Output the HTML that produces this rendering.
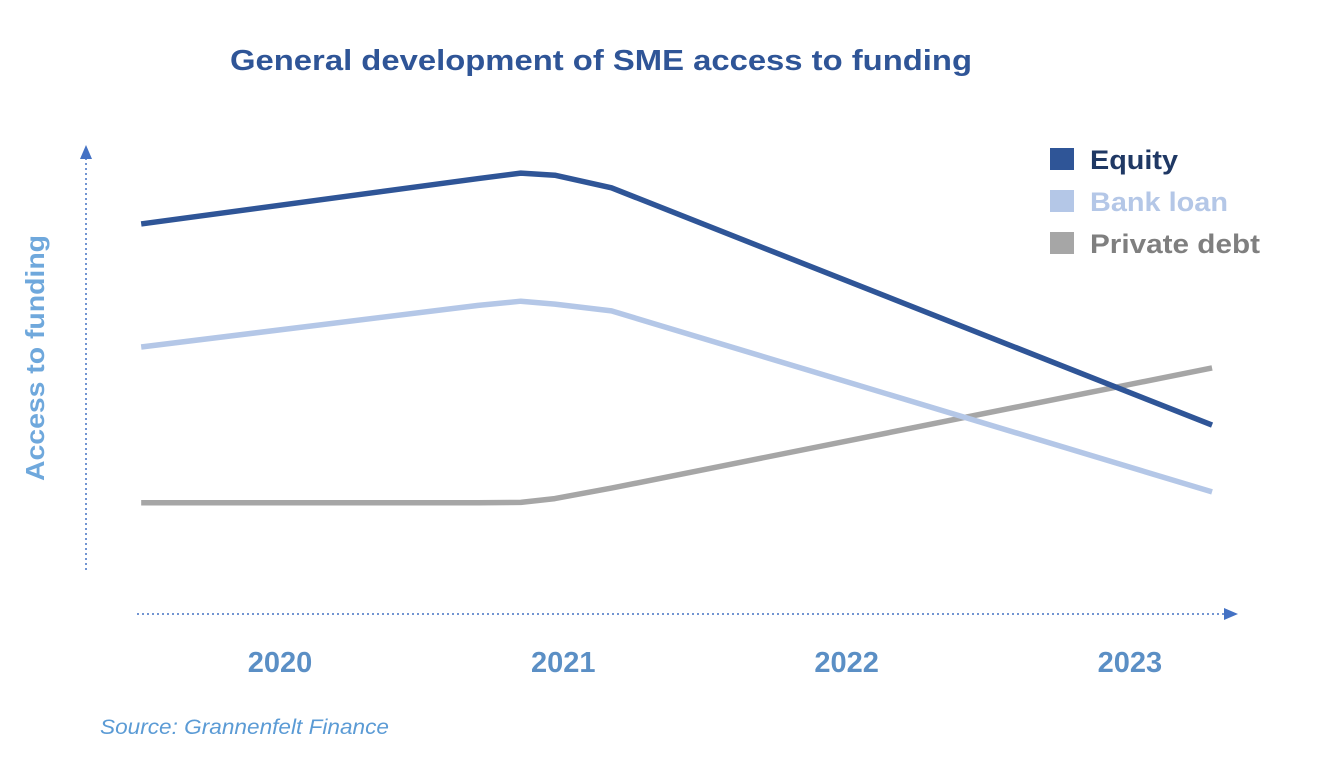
<!DOCTYPE html>
<html><head><meta charset="utf-8"><style>
html,body{margin:0;padding:0;background:#fff;}
svg{display:block;font-family:"Liberation Sans",sans-serif;}
</style></head><body>
<svg id="chart" width="1331" height="757" viewBox="0 0 1331 757">
<text x="230" y="70" font-size="29" font-weight="bold" fill="#2f5597" textLength="742" lengthAdjust="spacingAndGlyphs">General development of SME access to funding</text>
<g>
<line x1="86" y1="570" x2="86" y2="155" stroke="#4472c4" stroke-width="1.5" stroke-dasharray="2,3"/>
<path d="M80,159 L86,145 L92,159 Z" fill="#4472c4"/>
</g>
<text transform="translate(44,358) rotate(-90)" text-anchor="middle" font-size="26" font-weight="bold" fill="#6fa8dc" textLength="246" lengthAdjust="spacingAndGlyphs">Access to funding</text>
<g>
<line x1="137" y1="614" x2="1225" y2="614" stroke="#4472c4" stroke-width="1.5" stroke-dasharray="2,3"/>
<path d="M1224,608 L1238,614 L1224,620 Z" fill="#4472c4"/>
</g>
<g id="ticks"></g>
<g id="series"></g>
<g>
<rect x="1050" y="148" width="24" height="22" fill="#2f5597"/>
<text x="1090" y="169" font-size="27" font-weight="bold" fill="#1f3864" textLength="88" lengthAdjust="spacingAndGlyphs">Equity</text>
<rect x="1050" y="190" width="24" height="22" fill="#b4c7e7"/>
<text x="1090" y="211" font-size="27" font-weight="bold" fill="#b4c7e7" textLength="138" lengthAdjust="spacingAndGlyphs">Bank loan</text>
<rect x="1050" y="232" width="24" height="22" fill="#a6a6a6"/>
<text x="1090" y="253" font-size="27" font-weight="bold" fill="#7f7f7f" textLength="170" lengthAdjust="spacingAndGlyphs">Private debt</text>
</g>
<text x="100" y="734" font-size="21" font-style="italic" fill="#5b9bd5" textLength="289" lengthAdjust="spacingAndGlyphs">Source: Grannenfelt Finance</text>
</svg>
<script>
const years = ["2020","2021","2022","2023"];
const times = [2019.51, 2020.7, 2020.85, 2020.97, 2021.17, 2023.29];
const equity = [82.4, 93.2, 94.5, 94.0, 91.0, 34.5];
const bankLoan = [53.1, 63.0, 64.0, 63.3, 61.7, 18.6];
const privateDebt = [16.0, 16.0, 16.1, 17.0, 19.5, 48.1];
const NS = "http://www.w3.org/2000/svg";
function xScale(t){ return 280 + (t - 2020) * 283.3; }
function yScale(v){ return 570 - v * 4.2; }
const ticks = document.getElementById('ticks');
years.forEach(function(y){
  const t = document.createElementNS(NS,'text');
  t.setAttribute('x', xScale(+y));
  t.setAttribute('y', 672);
  t.setAttribute('text-anchor','middle');
  t.setAttribute('font-size','29');
  t.setAttribute('font-weight','bold');
  t.setAttribute('fill','#5b8fc5');
  t.textContent = y;
  
  
  ticks.appendChild(t);
});
const g = document.getElementById('series');
function draw(vals, color, name){
  const p = document.createElementNS(NS,'polyline');
  p.setAttribute('points', vals.map(function(v,i){ return xScale(times[i]) + ',' + yScale(v); }).join(' '));
  p.setAttribute('fill','none');
  p.setAttribute('stroke',color);
  p.setAttribute('stroke-width','5.5');
  p.setAttribute('stroke-linejoin','round');
  
  
  g.appendChild(p);
}
draw(privateDebt, '#a6a6a6', 'private-debt-line');
draw(bankLoan, '#b4c7e7', 'bank-loan-line');
draw(equity, '#2f5597', 'equity-line');
</script>
</body></html>
